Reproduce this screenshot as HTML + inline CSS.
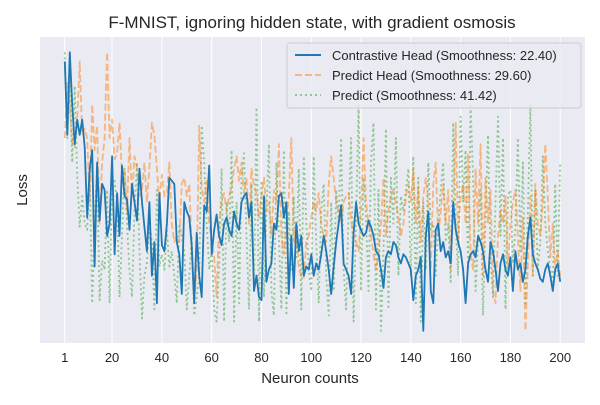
<!DOCTYPE html>
<html><head><meta charset="utf-8"><style>
body{margin:0;background:#fff;width:600px;height:400px;overflow:hidden;font-family:"Liberation Sans",sans-serif}
</style></head><body>
<svg id="chart" width="600" height="400" xmlns="http://www.w3.org/2000/svg">
<rect x="40" y="37" width="545" height="306" fill="#eaeaf2"/>
<g id="grid"></g>
<g id="series"></g>
<text x="312" y="28" font-size="17" text-anchor="middle" fill="#262626">F-MNIST, ignoring hidden state, with gradient osmosis</text>
<text x="310" y="383" font-size="15" text-anchor="middle" fill="#262626">Neuron counts</text>
<text x="27" y="190" font-size="15" text-anchor="middle" fill="#262626" transform="rotate(-90 27 190)">Loss</text>
<g id="xticks"></g>
<g>
<rect x="287" y="43" width="294" height="65" rx="3" fill="#eaeaf2" fill-opacity="0.8" stroke="#cccccc"/>
<line x1="295" y1="55" x2="321" y2="55" stroke="#1f77b4" stroke-width="2"/>
<text x="332" y="60" font-size="13" fill="#262626">Contrastive Head (Smoothness: 22.40)</text>
<line x1="295" y1="75" x2="321" y2="75" stroke="#ff7f0e" stroke-opacity="0.5" stroke-width="2" stroke-dasharray="7,3"/>
<text x="332" y="80" font-size="13" fill="#262626">Predict Head (Smoothness: 29.60)</text>
<line x1="295" y1="95" x2="321" y2="95" stroke="#2ca02c" stroke-opacity="0.5" stroke-width="2" stroke-dasharray="2,3"/>
<text x="332" y="100" font-size="13" fill="#262626">Predict (Smoothness: 41.42)</text>
</g>
</svg>
<script>
const xTicks=[1,20,40,60,80,100,120,140,160,180,200];
const contrastive=[92,68,95,78,65,73,68,73,64,41,57,63,25,59,40,52,50,35,39,61,29,49,35,58,48,47,37,52,46,40,57,46,38,30,46,22,33,13,49,32,30,39,54,53,52,33,29,16,46,43,41,32,13,36,22,15,45,43,58,29,37,42,
35,32,39,41,37,35,43,39,37,46,48,49,41,46,17,22,15,14,48,20,24,26,39,37,48,49,41,46,16,35,18,39,30,35,22,25,24,29,22,26,24,29,35,30,24,16,25,33,39,45,26,24,22,16,36,46,39,37,35,36,40,38,35,30,29,24,18,28,30,29,33,32,28,26,29,28,26,24,
14,22,24,28,4,35,43,17,13,37,39,30,33,28,30,26,46,37,33,30,24,13,26,29,30,28,35,33,30,24,20,33,30,24,17,26,29,24,22,28,17,30,24,26,20,24,35,41,29,26,24,21,20,24,26,22,17,24,26,20];
const predictHead=[67,85,78,65,64,73,92,68,70,67,46,78,63,71,39,59,67,95,67,73,60,62,72,55,57,43,67,48,61,57,48,50,59,46,57,72,68,57,46,55,48,49,59,39,33,35,33,52,54,48,52,30,13,24,71,51,46,53,39,33,28,15,
40,46,49,43,48,51,57,61,53,59,49,54,39,57,51,49,41,48,54,43,46,35,50,46,65,35,29,39,48,67,33,39,24,22,21,33,35,41,46,43,49,39,35,33,52,61,54,46,43,39,46,48,49,40,35,33,30,43,67,46,39,35,29,24,30,39,54,35,43,48,50,46,41,35,39,48,52,46,
57,39,51,33,48,54,46,24,52,59,35,43,52,39,50,24,43,72,33,48,52,39,62,29,24,57,39,65,22,54,39,50,17,13,35,43,39,48,24,39,46,50,35,17,41,4,26,48,22,52,39,35,46,65,48,28,39,24,30,22];
const predict=[95,67,87,59,84,55,38,48,39,37,55,13,39,57,14,27,24,50,13,52,53,46,15,35,57,39,24,15,43,59,30,8,22,26,39,33,11,50,25,29,24,37,25,30,22,13,39,35,30,11,22,35,9,15,22,71,59,39,24,30,11,7,
24,57,7,46,33,63,7,46,13,54,62,35,11,52,17,77,7,53,15,43,65,17,9,59,35,11,63,9,43,24,48,28,57,11,61,39,24,17,61,33,13,43,52,22,9,46,17,50,39,67,24,11,43,67,7,41,78,17,54,41,17,59,72,11,50,4,30,70,11,54,39,67,22,48,43,50,57,22,
61,13,54,7,46,24,59,37,39,22,39,50,59,33,39,20,72,39,22,74,46,63,24,78,54,17,33,50,9,41,68,28,15,46,74,35,67,11,48,50,26,38,67,30,59,13,43,78,22,50,24,33,61,39,30,24,20,52,22,59];

const NS="http://www.w3.org/2000/svg";
const xDom=[-8.95,209.95], px=[40,585];
function xs(n){return px[0]+(n-xDom[0])/(xDom[1]-xDom[0])*(px[1]-px[0]);}
function ys(v){return 343-v*3.06;}
const grid=document.getElementById('grid'), xt=document.getElementById('xticks');
xTicks.forEach(t=>{
  const l=document.createElementNS(NS,'line');
  l.setAttribute('x1',xs(t));l.setAttribute('x2',xs(t));l.setAttribute('y1',37);l.setAttribute('y2',343);
  l.setAttribute('stroke','#fff');l.setAttribute('stroke-width','1');
  
  
  grid.appendChild(l);
  const tx=document.createElementNS(NS,'text');
  tx.setAttribute('x',xs(t));tx.setAttribute('y',362);tx.setAttribute('font-size','13');
  tx.setAttribute('text-anchor','middle');tx.setAttribute('fill','#262626');
  tx.textContent=t;
  
  
  xt.appendChild(tx);
});
const sg=document.getElementById('series');
function draw(arr,color,op,dash,name){
  const p=document.createElementNS(NS,'polyline');
  p.setAttribute('points',arr.map((v,i)=>xs(i+1).toFixed(1)+','+ys(v).toFixed(1)).join(' '));
  p.setAttribute('fill','none');p.setAttribute('stroke',color);p.setAttribute('stroke-opacity',op);
  p.setAttribute('stroke-width','1.8');p.setAttribute('stroke-linejoin','round');
  if(dash)p.setAttribute('stroke-dasharray',dash);
  
  
  sg.appendChild(p);
}
draw(predict,'#2ca02c',0.5,'2,3','line-predict');
draw(predictHead,'#ff7f0e',0.5,'7,3','line-predict-head');
draw(contrastive,'#1f77b4',1,null,'line-contrastive-head');
</script>
</body></html>
